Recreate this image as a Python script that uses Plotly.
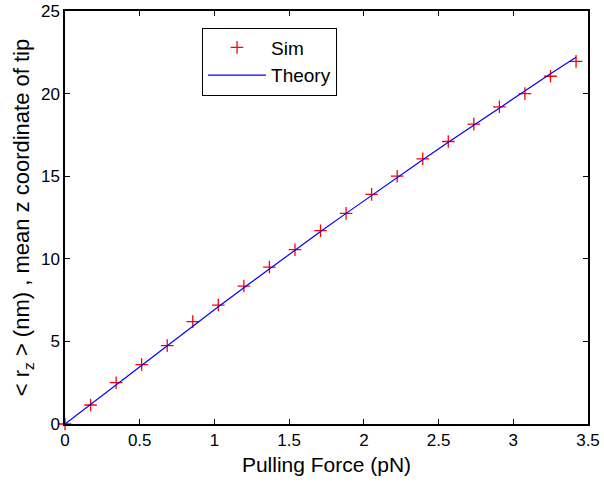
import plotly.graph_objects as go

force = [0.0, 0.171, 0.342, 0.513, 0.684, 0.855, 1.026, 1.197, 1.368, 1.539, 1.71,
         1.881, 2.052, 2.223, 2.394, 2.565, 2.736, 2.907, 3.078, 3.249, 3.42]
sim_z = [0.0, 1.15, 2.5, 3.6, 4.75, 6.2, 7.2, 8.35, 9.5, 10.55, 11.7,
         12.75, 13.9, 15.0, 16.05, 17.1, 18.15, 19.2, 20.0, 21.05, 21.95]
theory_z = [0.0, 1.18, 2.38, 3.55, 4.72, 5.95, 7.1, 8.25, 9.4, 10.5, 11.65,
            12.75, 13.85, 14.95, 16.0, 17.05, 18.1, 19.15, 20.15, 21.2, 22.2]

x_ticks = [0, 0.5, 1, 1.5, 2, 2.5, 3, 3.5]
x_tick_labels = ["0", "0.5", "1", "1.5", "2", "2.5", "3", "3.5"]
y_ticks = [0, 5, 10, 15, 20, 25]
y_tick_labels = ["0", "5", "10", "15", "20", "25"]

FONT = "Liberation Sans, Arial, sans-serif"

fig = go.Figure()
fig.add_trace(go.Scatter(
    x=force, y=sim_z, mode="markers", name="Sim",
    marker=dict(symbol="cross-thin-open", size=9, color="red",
                line=dict(color="red", width=1.3)),
    cliponaxis=False,
))
fig.add_trace(go.Scatter(
    x=force, y=theory_z, mode="lines", name="Theory",
    line=dict(color="blue", width=1.2),
))

axis_common = dict(
    showline=True, linecolor="black", linewidth=1.5, mirror="ticks",
    ticks="inside", ticklen=5, tickwidth=1, tickcolor="black",
    showgrid=False, zeroline=False, automargin=False,
    tickfont=dict(family=FONT, size=17, color="black"),
)

fig.update_xaxes(range=[0, 3.5], tickvals=x_ticks, ticktext=x_tick_labels,
                 title=dict(text="Pulling Force (pN)", font=dict(family=FONT, size=21, color="black"),
                            standoff=8),
                 **axis_common)
fig.update_yaxes(range=[0, 25], tickvals=y_ticks, ticktext=y_tick_labels,
                 title=dict(text="&lt; r<sub>z</sub> &gt; (nm) , mean z coordinate of tip",
                            font=dict(family=FONT, size=22, color="black"), standoff=5),
                 **axis_common)

fig.update_layout(
    width=604, height=486,
    margin=dict(l=65, r=16, t=11, b=62),
    paper_bgcolor="white", plot_bgcolor="white",
    font=dict(family=FONT, color="black"),
    showlegend=True,
    legend=dict(x=0.262, y=0.96, xanchor="left", yanchor="top",
                bgcolor="white", bordercolor="black", borderwidth=1,
                font=dict(family=FONT, size=19, color="black"),
                tracegroupgap=0, itemwidth=58),
)

fig.write_html("out.html", config={"displayModeBar": False},
               post_script="document.body.style.margin='0';document.body.style.overflow='hidden';")
